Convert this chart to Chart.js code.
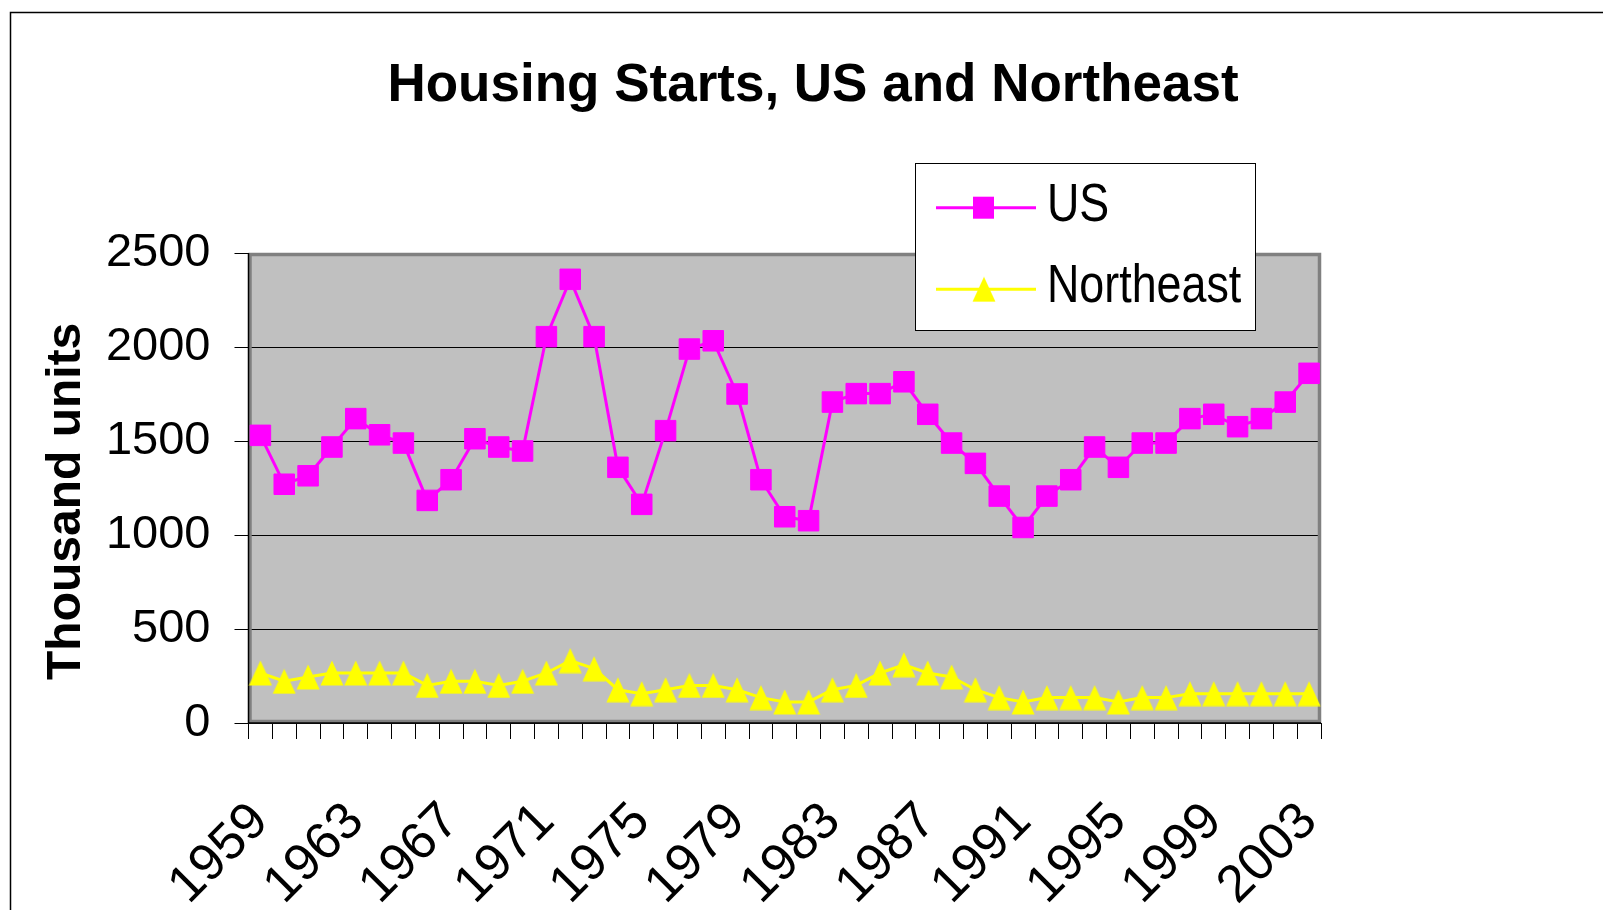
<!DOCTYPE html>
<html>
<head>
<meta charset="utf-8">
<title>Housing Starts, US and Northeast</title>
<script src="https://cdn.jsdelivr.net/npm/chart.js@4.4.1/dist/chart.umd.min.js"></script>
<style>
  html, body { margin: 0; padding: 0; background: #fff; }
  #wrap { position: relative; width: 1603px; height: 910px; }
</style>
</head>
<body>
<div id="wrap"><canvas id="housing-chart" width="1603" height="910"></canvas></div>
<script>
// data (thousand units)
const years = [
  '1959', '1960', '1961', '1962', '1963', '1964', '1965', '1966', '1967', '1968',
  '1969', '1970', '1971', '1972', '1973', '1974', '1975', '1976', '1977', '1978',
  '1979', '1980', '1981', '1982', '1983', '1984', '1985', '1986', '1987', '1988',
  '1989', '1990', '1991', '1992', '1993', '1994', '1995', '1996', '1997', '1998',
  '1999', '2000', '2001', '2002', '2003'
];
const usStarts = [
  1530, 1270, 1315, 1468, 1619, 1533, 1489, 1184, 1294, 1512,
  1468, 1447, 2055, 2360, 2055, 1360, 1163, 1555, 1989, 2033,
  1750, 1294, 1097, 1076, 1707, 1752, 1752, 1815, 1642, 1489,
  1381, 1207, 1040, 1207, 1294, 1468, 1360, 1489, 1489, 1619,
  1642, 1576, 1619, 1707, 1860
];
const northeastStarts = [
  266, 222, 245, 266, 266, 266, 266, 200, 222, 222,
  200, 222, 266, 332, 289, 177, 156, 177, 200, 200,
  177, 135, 112, 112, 177, 200, 266, 310, 266, 245,
  177, 135, 112, 135, 135, 135, 112, 135, 135, 156,
  156, 156, 156, 156, 156
];
const yTicks = [0, 500, 1000, 1500, 2000, 2500];

const SANS = "'Liberation Sans', Arial, sans-serif";

// yellow triangle marker
const triangle = (() => {
  const c = document.createElement('canvas');
  c.width = 24; c.height = 26;
  const g = c.getContext('2d');
  g.fillStyle = '#FFFF00';
  g.beginPath();
  g.moveTo(12, 0.5);
  g.lineTo(23.5, 25.5);
  g.lineTo(0.5, 25.5);
  g.closePath();
  g.fill();
  return c;
})();

const frame = {
  id: 'frame',
  beforeDraw(chart) {
    const {ctx, chartArea: a} = chart;
    ctx.save();
    ctx.fillStyle = '#fff';
    ctx.fillRect(0, 0, chart.width, chart.height);
    ctx.strokeStyle = '#000';
    ctx.lineWidth = 1.5;
    ctx.beginPath();
    ctx.moveTo(10.5, chart.height);
    ctx.lineTo(10.5, 12.5);
    ctx.lineTo(chart.width, 12.5);
    ctx.stroke();
    ctx.fillStyle = '#C0C0C0';
    ctx.fillRect(a.left, a.top, a.right - a.left, a.bottom - a.top);
    ctx.restore();
  },
  beforeDatasetsDraw(chart) {
    const {ctx, chartArea: a} = chart;
    ctx.save();
    ctx.strokeStyle = '#808080';
    ctx.lineWidth = 3.5;
    ctx.strokeRect(a.left + 1.5, a.top + 1.5, a.right - a.left - 3, a.bottom - a.top - 3);
    ctx.strokeStyle = '#000';
    ctx.lineWidth = 1.5;
    ctx.beginPath();
    ctx.moveTo(a.left, a.top);
    ctx.lineTo(a.left, a.bottom);
    ctx.lineTo(a.right, a.bottom);
    ctx.stroke();
    ctx.restore();
  }
};

const legendBox = {
  id: 'legendBox',
  afterDraw(chart) {
    const ctx = chart.ctx;
    const x = 915.5, y = 163.5, w = 340, h = 167;
    const rows = [207.7, 289.3];
    ctx.save();
    ctx.fillStyle = '#fff';
    ctx.fillRect(x, y, w, h);
    ctx.strokeStyle = '#000';
    ctx.lineWidth = 1;
    ctx.strokeRect(x, y, w, h);
    chart.data.datasets.forEach((ds, i) => {
      const ry = rows[i];
      ctx.strokeStyle = ds.borderColor;
      ctx.lineWidth = 3;
      ctx.beginPath();
      ctx.moveTo(936, ry);
      ctx.lineTo(1036, ry);
      ctx.stroke();
      if (ds.pointStyle === 'rect') {
        ctx.fillStyle = ds.pointBackgroundColor;
        ctx.fillRect(973, ry - 11, 21, 22);
      } else {
        ctx.drawImage(ds.pointStyle, 984 - 12, ry - 13);
      }
      // the original legend font is a condensed face, so squeeze it
      ctx.save();
      ctx.translate(1047, ry + 13);
      ctx.scale(0.83, 1);
      ctx.fillStyle = '#000';
      ctx.font = '54px ' + SANS;
      ctx.textAlign = 'left';
      ctx.textBaseline = 'alphabetic';
      ctx.fillText(ds.label, 0, 0);
      ctx.restore();
    });
    ctx.restore();
  }
};

const ctx = document.getElementById('housing-chart').getContext('2d');
const chart = new Chart(ctx, {
  type: 'line',
  data: {
    labels: years,
    datasets: [{
      label: 'US',
      data: usStarts,
      borderColor: '#FF00FF',
      backgroundColor: '#FF00FF',
      borderWidth: 3,
      pointStyle: 'rect',
      pointRadius: 14.5,
      pointBorderWidth: 1,
      pointBackgroundColor: '#FF00FF',
      pointBorderColor: '#FF00FF',
      tension: 0
    }, {
      label: 'Northeast',
      data: northeastStarts,
      borderColor: '#FFFF00',
      backgroundColor: '#FFFF00',
      borderWidth: 3,
      pointStyle: triangle,
      pointRadius: 13,
      tension: 0
    }]
  },
  plugins: [frame, legendBox],
  options: {
    responsive: false,
    animation: false,
    events: [],
    layout: {padding: {left: 23, right: 0, top: 0, bottom: 0}},
    plugins: {
      legend: {display: false},
      tooltip: {enabled: false},
      title: {
        display: true,
        text: 'Housing Starts, US and Northeast',
        color: '#000',
        font: {family: SANS, size: 53, weight: 'bold'},
        padding: {top: 55, bottom: 134.4}
      }
    },
    scales: {
      x: {
        offset: true,
        grid: {
          offset: true,
          drawOnChartArea: false,
          drawTicks: true,
          tickLength: 16,
          color: '#000',
          lineWidth: 1
        },
        border: {display: false},
        ticks: {
          autoSkip: false,
          minRotation: 45,
          maxRotation: 45,
          padding: 52,
          color: '#000',
          font: {family: SANS, size: 52},
          callback: (v, i) => (i % 4 === 0 ? years[i] : '')
        },
        afterFit: s => { s.height = 187; }
      },
      y: {
        min: 0,
        max: 2500,
        afterBuildTicks: s => { s.ticks = yTicks.map(v => ({value: v})); },
        grid: {color: '#000', lineWidth: 1, tickLength: 14, drawTicks: true},
        border: {display: false},
        ticks: {
          padding: 24,
          color: '#000',
          font: {family: SANS, size: 47},
          callback: v => String(v)
        },
        title: {
          display: true,
          text: 'Thousand units  ',
          color: '#000',
          font: {family: SANS, size: 48, weight: 'bold'},
          padding: {top: 15, bottom: 0}
        },
        afterFit: s => { s.width = 225.5; }
      },
      // empty right-hand spacer so the plot ends where the original's does
      y2: {
        position: 'right',
        display: true,
        grid: {display: false},
        border: {display: false},
        ticks: {display: false},
        afterFit: s => { s.width = 282; }
      }
    }
  }
});
</script>
</body>
</html>
